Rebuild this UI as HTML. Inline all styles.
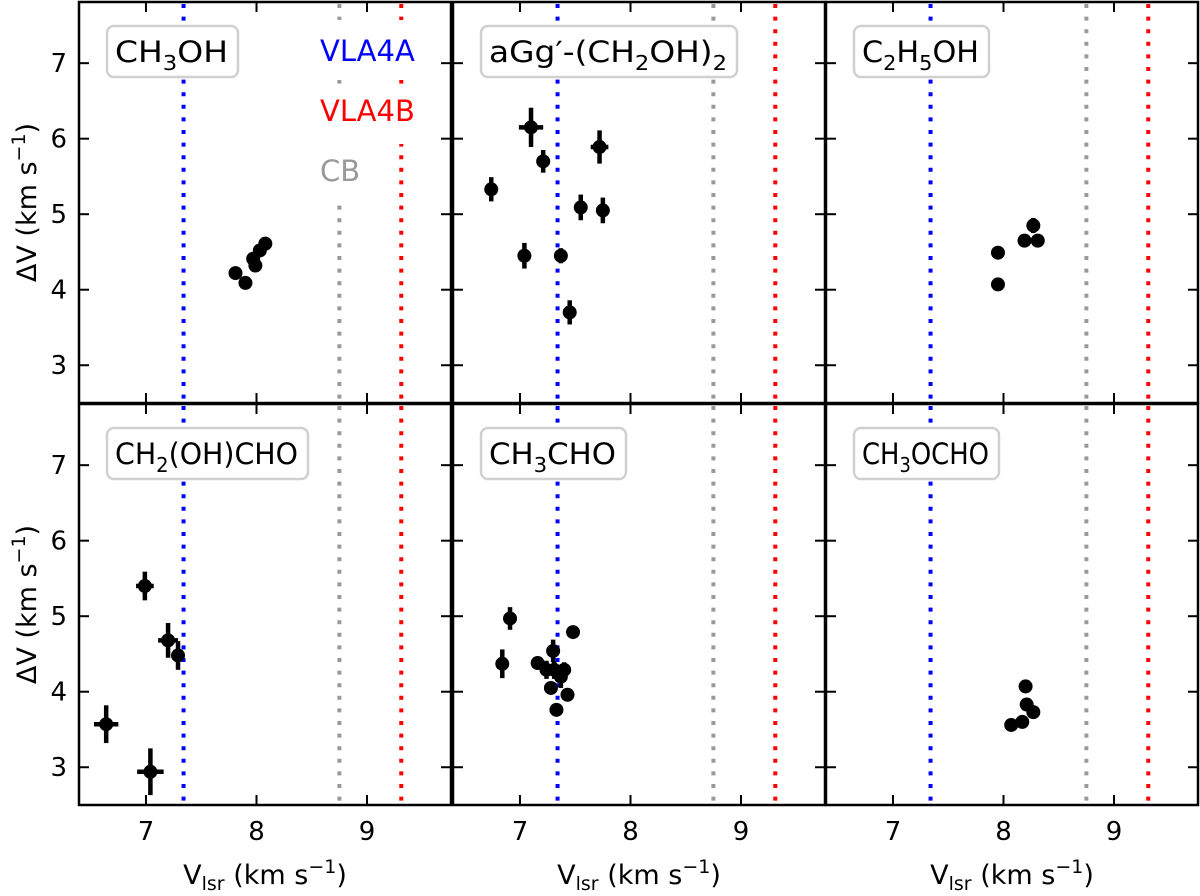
<!DOCTYPE html>
<html><head><meta charset="utf-8"><style>
body{margin:0;background:#fff;}
svg{display:block;font-family:"DejaVu Sans","Liberation Sans",sans-serif;}
</style></head><body>
<svg id="chart" width="1200" height="896" viewBox="0 0 1200 896"></svg>
<script>
// Data per panel: x values, y values, x errors, y errors
const p1x=[7.81,7.90,7.97,7.99,8.03,8.08];
const p1y=[4.22,4.09,4.41,4.32,4.52,4.61];
const p1ex=[0.03,0.03,0.03,0.03,0.03,0.03];
const p1ey=[0.05,0.05,0.06,0.06,0.05,0.05];
const p2x=[7.10,7.21,7.72,6.74,7.55,7.75,7.04,7.37,7.45];
const p2y=[6.15,5.70,5.89,5.33,5.09,5.05,4.45,4.45,3.70];
const p2ex=[0.11,0.04,0.08,0.05,0.05,0.05,0.05,0.04,0.05];
const p2ey=[0.26,0.15,0.22,0.16,0.17,0.17,0.17,0.10,0.16];
const p3x=[7.95,7.95,8.19,8.27,8.31];
const p3y=[4.49,4.07,4.65,4.85,4.65];
const p3ex=[0.03,0.03,0.03,0.03,0.03];
const p3ey=[0.06,0.08,0.08,0.10,0.08];
const p4x=[6.99,7.20,7.29,6.64,7.04];
const p4y=[5.40,4.68,4.48,3.57,2.94];
const p4ex=[0.08,0.09,0.05,0.11,0.12];
const p4ey=[0.19,0.23,0.19,0.25,0.31];
const p5x=[6.91,6.84,7.48,7.30,7.16,7.24,7.28,7.37,7.43,7.33,7.31,7.40];
const p5y=[4.97,4.37,4.79,4.54,4.38,4.29,4.05,4.20,3.96,3.76,4.29,4.29];
const p5ex=[0.03,0.04,0.02,0.04,0.03,0.04,0.03,0.04,0.03,0.02,0.03,0.06];
const p5ey=[0.15,0.19,0.05,0.15,0.05,0.12,0.08,0.15,0.05,0.05,0.12,0.1];
const p6x=[8.20,8.07,8.17,8.21,8.27];
const p6y=[4.07,3.56,3.60,3.83,3.73];
const p6ex=[0.03,0.03,0.03,0.03,0.03];
const p6ey=[0.08,0.04,0.04,0.05,0.05];
const xTicks=[7,8,9];
const yTicks=[3,4,5,6,7];
const refLines=[7.34,8.75,9.31];
const refColors=['#0000ff','#999999','#ff0000'];
const titles=['CH<tspan font-size="20" dy="8">3</tspan><tspan dy="-8">OH</tspan>',
 'aGg′-(CH<tspan font-size="20" dy="8">2</tspan><tspan dy="-8">OH)</tspan><tspan font-size="20" dy="8">2</tspan>',
 'C<tspan font-size="20" dy="8">2</tspan><tspan dy="-8">H</tspan><tspan font-size="20" dy="8">5</tspan><tspan dy="-8">OH</tspan>',
 'CH<tspan font-size="20" dy="8">2</tspan><tspan dy="-8">(OH)CHO</tspan>',
 'CH<tspan font-size="20" dy="8">3</tspan><tspan dy="-8">CHO</tspan>',
 'CH<tspan font-size="20" dy="8">3</tspan><tspan dy="-8">OCHO</tspan>'];
const titleW=[131,256,135,201,145,145];
const titleNames=['ch3oh','ethylene-glycol','c2h5oh','glycolaldehyde','ch3cho','ch3ocho'];
const panels=[[p1x,p1y,p1ex,p1ey],[p2x,p2y,p2ex,p2ey],[p3x,p3y,p3ex,p3ey],[p4x,p4y,p4ex,p4ey],[p5x,p5y,p5ex,p5ey],[p6x,p6y,p6ex,p6ey]];

const svg=document.getElementById('chart');
const NS='http://www.w3.org/2000/svg';
function mk(tag,attrs,parent){const e=document.createElementNS(NS,tag);for(const k in attrs)e.setAttribute(k,attrs[k]);(parent||svg).appendChild(e);return e;}
const PX=[79,453,826], PY=[2,404], PW=372, PH=401;
const XMIN=6.394,XMAX=9.76,YMIN=2.50,YMAX=7.81;
panels.forEach((p,i)=>{
  const col=i%3,row=Math.floor(i/3);
  const x0=PX[col],y0=PY[row];
  const sx=v=>x0+(v-XMIN)/(XMAX-XMIN)*PW;
  const sy=v=>y0+PH-(v-YMIN)/(YMAX-YMIN)*PH;
  const g=mk('g',{});
  
  
  refLines.forEach((r,k)=>{
    const l=mk('line',{x1:sx(r),x2:sx(r),y1:y0+2,y2:y0+PH,stroke:refColors[k],'stroke-width':4,'stroke-dasharray':'4 8.6'},g);
    
    
  });
  if(i===0){
    mk('rect',{x:312,y:20,width:125,height:60,fill:'#fff'},g);
    mk('rect',{x:312,y:84,width:125,height:60,fill:'#fff'},g);
    mk('rect',{x:312,y:144,width:60,height:60,fill:'#fff'},g);
    const lg=[['VLA4A','#0000ff',61],['VLA4B','#ff0000',121],['CB','#999999',181]];
    lg.forEach(t=>{const e=mk('text',{x:320,y:t[2],fill:t[1],'font-size':29},g);e.textContent=t[0];
      
      });
  }
  p[0].forEach((xv,j)=>{
    const cx=sx(xv),cy=sy(p[1][j]);
    const dx=p[2][j]/(XMAX-XMIN)*PW, dy=p[3][j]/(YMAX-YMIN)*PH;
    const e1=mk('line',{x1:cx-dx,x2:cx+dx,y1:cy,y2:cy,stroke:'#000','stroke-width':4.5},g);
    
    
    const e2=mk('line',{x1:cx,x2:cx,y1:cy-dy,y2:cy+dy,stroke:'#000','stroke-width':4.5},g);
    
    
    const c=mk('circle',{cx:cx,cy:cy,r:7,fill:'#000'},g);
    
    
  });
  const bx=x0+28,by=y0+24;
  const tb=mk('rect',{x:bx,y:by,width:titleW[i],height:51,rx:7,fill:'#fff',stroke:'#d0d0d0','stroke-width':2.5},g);
  
  
  const tt=mk('text',{x:bx+8,y:by+36,'font-size':29,fill:'#000',textLength:titleW[i]-18,lengthAdjust:'spacingAndGlyphs'},g);
  tt.innerHTML=titles[i];
  
  
  mk('rect',{x:x0,y:y0,width:PW,height:PH,fill:'none',stroke:'#000','stroke-width':2.5},g);
  xTicks.forEach(t=>{const X=sx(t);
    mk('line',{x1:X,x2:X,y1:y0+PH,y2:y0+PH-10,stroke:'#000','stroke-width':2},g);
    mk('line',{x1:X,x2:X,y1:y0,y2:y0+10,stroke:'#000','stroke-width':2},g);
    if(row===1){const e=mk('text',{x:X,y:y0+PH+35,'font-size':26,'text-anchor':'middle'},g);e.textContent=t;
      
      }
  });
  yTicks.forEach(t=>{const Y=sy(t);
    mk('line',{x1:x0,x2:x0+10,y1:Y,y2:Y,stroke:'#000','stroke-width':2},g);
    mk('line',{x1:x0+PW,x2:x0+PW-10,y1:Y,y2:Y,stroke:'#000','stroke-width':2},g);
    if(col===0){const e=mk('text',{x:x0-12,y:Y+9,'font-size':26,'text-anchor':'end'},g);e.textContent=t;
      
      }
  });
  if(row===1){const e=mk('text',{x:x0+PW/2,y:884,'font-size':27,'text-anchor':'middle'},g);
    e.innerHTML='V<tspan font-size="19" dy="6">lsr</tspan><tspan dy="-6"> (km s</tspan><tspan font-size="19" dy="-11">−1</tspan><tspan dy="11">)</tspan>';
    
    }
  if(col===0){const cy=y0+PH/2;const e=mk('text',{x:0,y:0,'font-size':27,'text-anchor':'middle',transform:`translate(36,${cy}) rotate(-90)`},g);
    e.innerHTML='ΔV (km s<tspan font-size="19" dy="-11">−1</tspan><tspan dy="11">)</tspan>';
    
    }
});
</script>
</body></html>
